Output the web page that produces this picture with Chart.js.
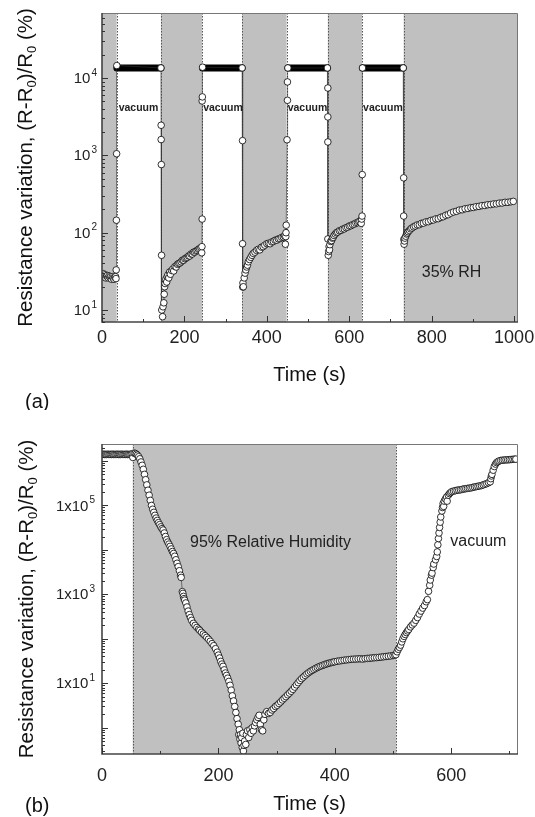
<!DOCTYPE html>
<html><head><meta charset="utf-8">
<script src="https://cdn.jsdelivr.net/npm/chart.js@4.4.0/dist/chart.umd.min.js"></script>
<style>
html,body{margin:0;padding:0;background:#fff;}
body{width:535px;height:817px;position:relative;overflow:hidden;}
canvas{position:absolute;left:0;}
#ca{top:0;} #cb{top:410px;}
</style></head>
<body>
<canvas id="ca" width="535" height="410"></canvas>
<canvas id="cb" width="535" height="407"></canvas>
<script>
// ---------- Panel (a) data ----------
const tA = [1,3,5,7,9,11,13,15,17,19,21,23,25,27,29,31,33,34,34.5,35,35.5,36,
 143,143.5,143.5,144,144.5,145,147,148,150,151,152,153,155,157,158,160,162,164,166,169,172,174,177,180,183,186,189,192,195,198,201,204,207,210,213,216,219,222,225,228,231,234,237,240,242,242.5,243,243,243.5,244,
 340,341,341,341.5,342,343,345,347,349,351,353,355,358,361,364,367,371,375,379,383,387,391,395,400,404,408,412,416,420,424,428,432,436,440,443,445,446,446.5,447,449,450,450,451,
 547,548,548,548,548,549,550,551,552,553,555,557,559,561,563,566,569,572,576,580,584,588,592,596,600,604,608,612,616,620,623,626,629,630,631,631.5,632,
 731,732,732,732.5,733,734,735,737,739,741,743,746,749,752,756,760,765,770,775,780,786,792,798,804,810,816,822,828,834,840,846,853,860,867,874,881,888,895,901,908,915,922,929,936,943,950,957,964,971,978,985,992,998];
const rA = [28,29.5,27,28.5,26,27.5,28,26,27.5,26.5,27,25,27,26,25,26.5,27,25.5,33,145,1050,14500,
 13500,2450,1600,760,51,10,8.2,11,12.4,16,20,22,25,23,27,28.5,26,31,29,32.5,34,32,36.5,36,39,40,40.5,42,44,44,46,47,48,50,50,53,53,56,56,58,59,61,62,64,55,66,150,5050,5700,13800,
 13500,1550,72,19.8,22.4,20,26,30,33,36,38,42,45,48,51,54,56,59,61,60,65,66,69,72,73,72,76,77,80,80,83,84,87,88,91,71,89,100,125,1590,5150,8900,13500,
 13500,7430,3140,1490,83,51,57,66,60,70,77,79,85,87,92,96,100,102,106,107,111,112,116,118,122,123,127,129,133,135,139,141,132,150,164,564,13500,
 13500,512,164,82,71,78,85,90,96,99,103,107,112,115,119,122,126,127,132,133,138,139,144,146,151,152,158,161,168,171,179,185,189,196,198,204,206,211,212,217,219,224,225,230,231,235,236,241,242,247,247,251,254];
const plateauStart = [36,244,451,632];
const plateauEnd   = [143,340,547,731];
const plateauLevel = 13500;
const grayA = [[0,35.6],[143,243],[340,448],[548,631],[732,1007]];
const xTicksA = [0,100,200,300,400,500,600,700,800,900,1000];
const xLabelsA = [0,200,400,600,800,1000];
const yExpA = [1,2,3,4];

// ---------- Panel (b) data ----------
const tB = [0,2,4,6,8,10,12,14,16,18,20,22,24,26,28,30,32,34,36,38,40,42,44,46,48,50,52,53,
 55,57,59,61,63,65,67,69,71,73,75,77,79,81,83,85,87,89,91,93,95,97,99,101,103,105,107,109,111,113,115,117,119,121,123,125,127,129,131,133,135,136,
 138,139,140,141,142,144,146,148,150,152,154,157,160,163,166,168,171,174,177,180,183,186,189,192,195,198,200,202,204,206,208,210,212,214,216,218,220,222,224,226,228,230,232,234,235,236,237,238,239,240,241,242,243,244,245,247,248,250,252,254,256,258,260,262,264,266,268,270,272,274,276,278,280,283,286,289,292,295,298,301,304,307,310,313,316,319,322,325,328,331,334,337,340,343,346,349,352,355,358,361,364,367,370,373,376,379,382,385,388,391,394,397,400,404,408,412,416,420,424,428,432,436,440,444,448,452,456,460,464,468,472,476,480,484,488,492,496,500,503,505,
 507,509,511,513,515,517,519,521,523,525,527,530,533,536,539,542,545,548,551,554,557,559,561,563,564,566,567,569,570,573,575,576,577,578,579,580,581,582,584,585,586,587,588,590,592,593,595,597,599,601,604,607,610,613,616,619,622,625,628,631,634,637,640,643,646,649,652,655,658,661,664,667,668,669,670,672,674,676,678,680,682,685,688,691,694,697,700,703,706,709,711];
const rB = [1.4e6,1.42e6,1.4e6,1.41e6,1.4e6,1.42e6,1.4e6,1.41e6,1.4e6,1.42e6,1.4e6,1.41e6,1.4e6,1.42e6,1.4e6,1.41e6,1.4e6,1.42e6,1.4e6,1.41e6,1.4e6,1.42e6,1.4e6,1.41e6,1.4e6,1.42e6,1.45e6,1.2e6,
 1.5e6,1.48e6,1.42e6,1.35e6,1.25e6,1.12e6,9.5e5,8e5,6.5e5,5e5,3.8e5,2.9e5,2.2e5,1.7e5,1.3e5,1e5,8.2e4,7e4,6e4,5.2e4,4.6e4,4.1e4,3.7e4,3.3e4,3e4,2.8e4,2.4e4,2e4,1.7e4,1.5e4,1.35e4,1.2e4,1.05e4,9.2e3,8.3e3,7.2e3,6e3,5e3,4.2e3,3.4e3,2.7e3,2.4e3,
 1150,1050,900,800,740,640,520,420,350,300,260,223,200,180,165,155,140,128,118,108,98,88,78,70,60,50,43,37,31,27,24,20,17,15,13,11,9,7,5.2,4,3,2.2,1.6,1.2,0.7,0.9,0.55,0.7,0.45,0.6,0.36,0.75,0.3,0.4,0.5,0.42,0.7,0.85,0.6,0.9,0.75,1.0,0.85,1.1,1.3,1.5,1.7,1.9,1.2,0.9,0.85,1.5,2.0,2.3,2.1,2.2,2.5,2.7,3.0,3.2,3.5,3.8,4.2,4.6,5.0,5.5,6.0,6.6,7.3,8.2,9.2,10.3,11.5,12.7,13.8,15,16.2,17.3,18.5,19.5,20.5,21.6,22.6,23.6,24.5,25.3,26.2,27,27.8,28.5,29.2,29.8,30.5,31.2,31.8,32.4,33,33.5,34,34.5,34.8,35,35.3,35.5,35,35.8,36.2,36.5,37,37.5,37.8,38.2,38.8,39.5,40,40.5,41.2,42,43,44,
 51,58,64,72,85,100,113,125,138,150,162,185,205,225,260,300,360,420,490,560,680,760,1170,1600,2100,2700,3000,4000,4800,6000,7100,9000,1.3e4,1.8e4,2.4e4,3.2e4,4.2e4,5.5e4,7.5e4,9e4,1.1e5,9.5e4,1.25e5,1.4e5,1.55e5,1.25e5,1.7e5,1.85e5,1.95e5,2.05e5,2.1e5,2.15e5,2.2e5,2.22e5,2.25e5,2.3e5,2.35e5,2.38e5,2.42e5,2.45e5,2.48e5,2.55e5,2.6e5,2.65e5,2.7e5,2.75e5,2.8e5,2.9e5,3e5,3.1e5,3.25e5,3.4e5,4e5,4.6e5,5e5,6.2e5,7.5e5,8.5e5,9.2e5,9.6e5,1.0e6,1.03e6,1.04e6,1.05e6,1.06e6,1.06e6,1.07e6,1.08e6,1.09e6,1.1e6,1.1e6];
const grayB = [[52.8,505.6]];
const xTicksB = [0,100,200,300,400,500,600,700];
const xLabelsB = [0,200,400,600];
const yExpB = [1,3,5];

// ---------- drawing ----------
const FONT = '"Liberation Sans", Arial, Helvetica, sans-serif';

function panelPlugin(cfg){
  return {
    id: 'panel_' + cfg.name,
    beforeDatasetsDraw(chart){
      const {ctx, chartArea: ca} = chart;
      const x = chart.scales.x;
      ctx.save();
      ctx.beginPath(); ctx.rect(ca.left, ca.top, ca.right - ca.left, ca.bottom - ca.top); ctx.clip();
      ctx.fillStyle = '#c0c0c0';
      cfg.gray.forEach(([a,b]) => {
        const xa = x.getPixelForValue(a), xb = x.getPixelForValue(b);
        ctx.fillRect(xa, ca.top, xb - xa, ca.bottom - ca.top);
      });
      ctx.strokeStyle = '#555'; ctx.lineWidth = 1; ctx.setLineDash([1.5,1.5]);
      cfg.gray.forEach(([a,b]) => {
        [a,b].forEach(v => {
          if (v <= x.min || v >= x.max) return;
          const px = Math.round(x.getPixelForValue(v)) + 0.5;
          ctx.beginPath(); ctx.moveTo(px, ca.top); ctx.lineTo(px, ca.bottom); ctx.stroke();
        });
      });
      ctx.restore();
    },
    afterDatasetsDraw(chart){
      const {ctx, chartArea: ca} = chart;
      const x = chart.scales.x, y = chart.scales.y;
      ctx.save();
      // frame
      ctx.lineWidth = 1; ctx.strokeStyle = '#777';
      ctx.beginPath();
      ctx.moveTo(ca.left, ca.top + 0.5); ctx.lineTo(ca.right + 0.5, ca.top + 0.5); ctx.lineTo(ca.right + 0.5, ca.bottom);
      ctx.stroke();
      ctx.lineWidth = 1.6; ctx.strokeStyle = '#444';
      ctx.beginPath();
      ctx.moveTo(ca.left, ca.top); ctx.lineTo(ca.left, ca.bottom); ctx.lineTo(ca.right + 1, ca.bottom);
      ctx.stroke();
      // ticks (inward)
      ctx.lineWidth = 1; ctx.strokeStyle = '#333';
      const lo = Math.floor(Math.log10(y.min)), hi = Math.ceil(Math.log10(y.max));
      for (let k = lo; k <= hi; k++) {
        for (let m = 1; m <= 9; m++) {
          const v = m * Math.pow(10, k);
          if (v < y.min || v > y.max) continue;
          const py = Math.round(y.getPixelForValue(v)) + 0.5;
          const len = m === 1 ? 6 : 3;
          ctx.beginPath(); ctx.moveTo(ca.left, py); ctx.lineTo(ca.left + len, py); ctx.stroke();
        }
      }
      x.ticks.forEach(t => {
        const px = Math.round(x.getPixelForValue(t.value)) + 0.5;
        const len = cfg.xLabels.includes(t.value) ? 6 : 3;
        ctx.beginPath(); ctx.moveTo(px, ca.bottom); ctx.lineTo(px, ca.bottom - len); ctx.stroke();
      });
      // y tick labels with superscript
      ctx.fillStyle = '#222';
      cfg.yExp.forEach(e => {
        const py = y.getPixelForValue(Math.pow(10, e));
        ctx.font = '10px ' + FONT;
        const es = String(e); const ew = ctx.measureText(es).width;
        ctx.font = '15px ' + FONT;
        const bw = ctx.measureText(cfg.prefix).width;
        const right = cfg.labelRight;
        ctx.textAlign = 'left'; ctx.textBaseline = 'middle';
        ctx.fillText(cfg.prefix, right - ew - 1 - bw, py + 1);
        ctx.font = '10px ' + FONT; ctx.textBaseline = 'alphabetic';
        ctx.fillText(es, right - ew, py - 2.5);
      });
      // annotations
      cfg.notes.forEach(n => {
        ctx.font = n.font; ctx.fillStyle = '#222'; ctx.textAlign = 'left'; ctx.textBaseline = 'alphabetic';
        ctx.fillText(n.text, x.getPixelForValue(n.t) + (n.dx || 0), y.getPixelForValue(n.v));
      });
      // y title with subscripts (rotated)
      const parts = [['Resistance variation, (R-R',0],['0',1],[')/R',0],['0',1],[' (%)',0]];
      const big = '20.5px ' + FONT, small = '13px ' + FONT;
      let total = 0;
      parts.forEach(p => { ctx.font = p[1] ? small : big; total += ctx.measureText(p[0]).width; });
      ctx.translate(cfg.titleX, (ca.top + ca.bottom) / 2);
      ctx.rotate(-Math.PI / 2);
      ctx.fillStyle = '#111'; ctx.textAlign = 'left'; ctx.textBaseline = 'alphabetic';
      let cx = -total / 2;
      parts.forEach(p => {
        ctx.font = p[1] ? small : big;
        ctx.fillText(p[0], cx, p[1] ? 4 : 0);
        cx += ctx.measureText(p[0]).width;
      });
      ctx.setTransform(1,0,0,1,0,0);
      // panel label
      ctx.font = '20px ' + FONT; ctx.fillStyle = '#111'; ctx.textAlign = 'left'; ctx.textBaseline = 'middle';
      ctx.fillText(cfg.panel, 25, cfg.panelY);
      ctx.restore();
    }
  };
}

function makeChart(id, cfg, datasets){
  return new Chart(document.getElementById(id), {
    type: 'line',
    data: { datasets },
    options: {
      responsive: false, animation: false, events: [],
      layout: { padding: { left: 0, right: cfg.padR, top: cfg.padT, bottom: 0 } },
      plugins: { legend: { display: false }, tooltip: { enabled: false } },
      scales: {
        x: {
          type: 'linear', min: cfg.xmin, max: cfg.xmax,
          grid: { display: false, drawTicks: false }, border: { display: false },
          afterBuildTicks: s => { s.ticks = cfg.xTicks.map(v => ({ value: v })); },
          ticks: { autoSkip: false, maxRotation: 0, minRotation: 0,
                   padding: cfg.tickPad, color: '#222', font: { family: FONT, size: 18 },
                   callback: v => cfg.xLabels.includes(v) ? String(v) : '' },
          title: { display: true, text: 'Time (s)', color: '#111', font: { family: FONT, size: 20 },
                   padding: { top: 0, bottom: cfg.titlePad } },
          afterFit: s => { s.height = cfg.xAxisH; s.paddingLeft = 0; s.paddingRight = 0; }
        },
        y: {
          type: 'logarithmic', min: cfg.ymin, max: cfg.ymax,
          grid: { display: false, drawTicks: false }, border: { display: false },
          ticks: { display: false },
          afterFit: s => { s.width = 102; s.paddingTop = 0; s.paddingBottom = 0; }
        }
      }
    },
    plugins: [panelPlugin(cfg)]
  });
}

const pointStyle = {
  showLine: true, borderColor: '#333', borderWidth: 0.6, tension: 0,
  pointRadius: 3.3, pointBorderWidth: 0.8, pointBackgroundColor: '#fff', pointBorderColor: '#000'
};

// Panel (a)
const plateauData = [];
plateauStart.forEach((s, i) => {
  plateauData.push({ x: s, y: plateauLevel }, { x: plateauEnd[i], y: plateauLevel });
  if (i < plateauStart.length - 1) plateauData.push({ x: (plateauEnd[i] + plateauStart[i+1]) / 2, y: null });
});
makeChart('ca', {
  name: 'a', xmin: 0, xmax: 1007, ymin: 7.0, ymax: 69300, padR: 18, padT: 13, xAxisH: 88,
  tickPad: 5, titlePad: 23, xTicks: xTicksA, xLabels: xLabelsA, gray: grayA, yExp: yExpA, prefix: '10', labelRight: 97,
  titleX: 32, panel: '(a)', panelY: 402,
  notes: [
    { text: 'vacuum', t: grayA[0][1], dx: 2, v: 3700, font: 'bold 10.5px ' + FONT },
    { text: 'vacuum', t: grayA[1][1], dx: 1, v: 3700, font: 'bold 10.5px ' + FONT },
    { text: 'vacuum', t: grayA[2][1], dx: 1, v: 3700, font: 'bold 10.5px ' + FONT },
    { text: 'vacuum', t: grayA[3][1], dx: 1, v: 3700, font: 'bold 10.5px ' + FONT },
    { text: '35% RH', t: 776, v: 27, font: '16px ' + FONT }
  ]
}, [
  Object.assign({ data: tA.map((t, i) => ({ x: t, y: rA[i] })) }, pointStyle),
  { data: plateauData, showLine: true, borderColor: '#000', borderWidth: 7, borderCapStyle: 'round',
    pointRadius: 0, spanGaps: false, tension: 0 }
]);

// Panel (b)
makeChart('cb', {
  name: 'b', xmin: 0, xmax: 713, ymin: 0.256, ymax: 2.41e6, padR: 18, padT: 34, xAxisH: 63,
  tickPad: 11, titlePad: 1, xTicks: xTicksB, xLabels: xLabelsB, gray: grayB, yExp: yExpB, prefix: '1x10', labelRight: 95,
  titleX: 33, panel: '(b)', panelY: 396,
  notes: [
    { text: '95% Relative Humidity', t: 151.3, v: 1.19e4, font: '16px ' + FONT },
    { text: 'vacuum', t: 598.5, v: 1.23e4, font: '16px ' + FONT }
  ]
}, [
  Object.assign({ data: tB.map((t, i) => ({ x: t, y: rB[i] })) }, pointStyle)
]);
</script>
</body></html>
